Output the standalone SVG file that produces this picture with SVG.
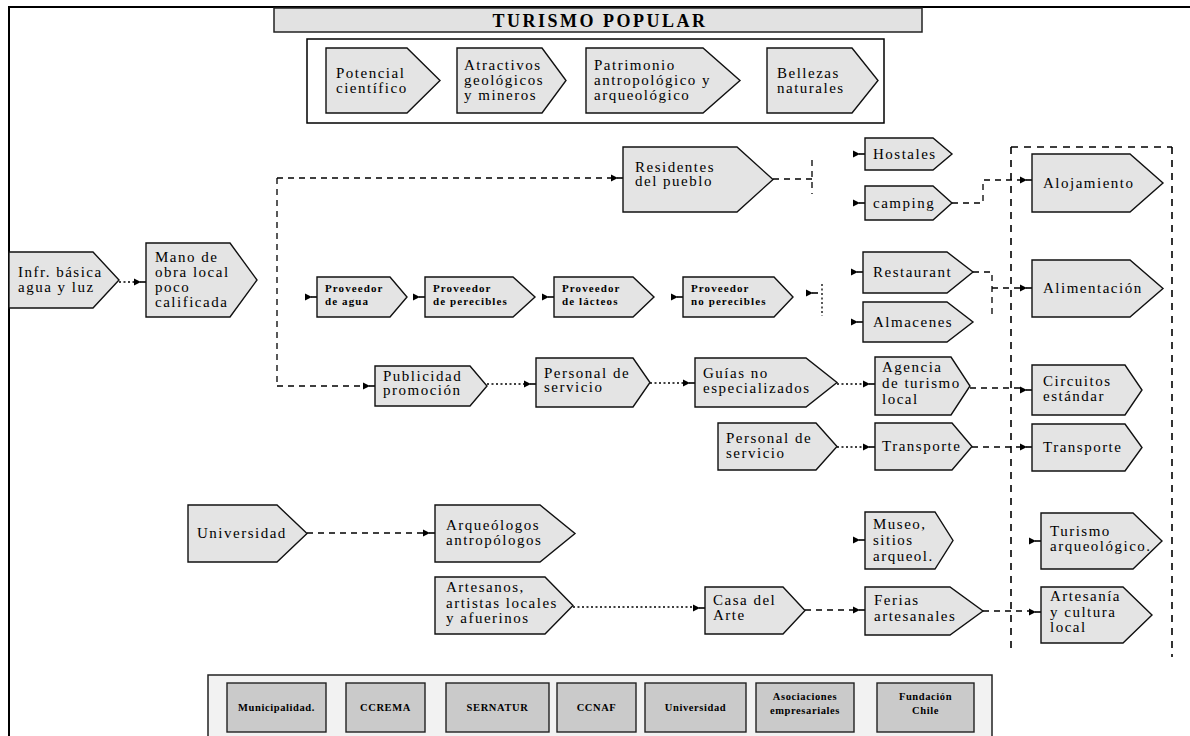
<svg xmlns="http://www.w3.org/2000/svg" xmlns:xlink="http://www.w3.org/1999/xlink" width="1190" height="736" viewBox="0 0 1190 736">
<style>
.n{fill:#e4e4e4;stroke:#111;stroke-width:1.4}
.t{font-family:"Liberation Serif","Times New Roman",serif;font-size:15px;letter-spacing:1.5px;fill:#000}
.ts{font-family:"Liberation Serif","Times New Roman",serif;font-size:11px;font-weight:bold;letter-spacing:1.1px;fill:#000}
.tb{font-family:"Liberation Serif","Times New Roman",serif;font-size:10.5px;font-weight:bold;letter-spacing:0.6px;fill:#000;text-anchor:middle}
.dash{fill:none;stroke:#000;stroke-width:1.3;stroke-dasharray:6 5}
.col{fill:none;stroke:#000;stroke-width:1.6;stroke-dasharray:7 6}
.dot{fill:none;stroke:#000;stroke-width:1.3;stroke-dasharray:2 2.5}
.bx{fill:#cacaca;stroke:#222;stroke-width:1.4}
</style>
<defs>
<g id="ah"><path d="M-12,-3.5 L-5,0 L-12,3.5 Z" fill="#000"/><path d="M-6,0 H0" stroke="#000" stroke-width="1.6"/></g>
</defs>

<g id="frame">
<path d="M9,736 V7 H1190" fill="none" stroke="#000" stroke-width="2"/>
</g>

<g id="title">
<rect x="274" y="8" width="648" height="24" fill="#e2e2e2" stroke="#222" stroke-width="1.5"/>
<text x="600" y="27" font-family="'Liberation Serif','Times New Roman',serif" font-size="18" font-weight="bold" letter-spacing="2.5" text-anchor="middle">TURISMO POPULAR</text>
</g>

<g id="topbox">
<rect x="307" y="39" width="577" height="84" fill="#fff" stroke="#000" stroke-width="1.5"/>
</g>
<g id="n-potencial"><polygon class="n" points="326,48 407,48 440,80.5 407,113 326,113"/><text class="t"><tspan x="336" y="78">Potencial</tspan><tspan x="336" y="93">científico</tspan></text></g>
<g id="n-atractivos"><polygon class="n" points="457,48 542,48 566,80.5 542,113 457,113"/><text class="t"><tspan x="464" y="70">Atractivos</tspan><tspan x="464" y="85">geológicos</tspan><tspan x="464" y="100">y mineros</tspan></text></g>
<g id="n-patrimonio"><polygon class="n" points="586,48 703,48 740,80.5 703,113 586,113"/><text class="t"><tspan x="594" y="70">Patrimonio</tspan><tspan x="594" y="85">antropológico y</tspan><tspan x="594" y="100">arqueológico</tspan></text></g>
<g id="n-bellezas"><polygon class="n" points="767,48 852,48 878,80.5 852,113 767,113"/><text class="t"><tspan x="777" y="78">Bellezas</tspan><tspan x="777" y="93">naturales</tspan></text></g>

<g id="connectors">
<path class="dot" d="M119,282 H137"/>
<use xlink:href="#ah" x="146" y="282"/>
<path class="dash" d="M277,178 V386 M277,178 H614 M277,386 H366"/>
<use xlink:href="#ah" x="623" y="178"/>
<use xlink:href="#ah" x="375" y="386"/>
<use xlink:href="#ah" x="317" y="297"/>
<use xlink:href="#ah" x="425" y="297"/>
<use xlink:href="#ah" x="554" y="297"/>
<use xlink:href="#ah" x="683" y="297"/>
<use xlink:href="#ah" x="818" y="293"/>
<path class="dot" d="M822,284 V316"/>
<path class="dash" d="M773,179 H812 M812,160 V194"/>
<use xlink:href="#ah" x="865" y="154"/>
<use xlink:href="#ah" x="865" y="203"/>
<path class="dash" d="M952,203 H983 V180 H1023"/>
<use xlink:href="#ah" x="1032" y="180"/>
<path class="dash" d="M973,272 H992 V318 M992,288 H1023"/>
<use xlink:href="#ah" x="863" y="272"/>
<use xlink:href="#ah" x="863" y="322"/>
<use xlink:href="#ah" x="1032" y="288"/>
<path class="dot" d="M487,384 H527"/>
<use xlink:href="#ah" x="536" y="384"/>
<path class="dot" d="M650,383 H686"/>
<use xlink:href="#ah" x="695" y="383"/>
<path class="dot" d="M837,384 H866"/>
<use xlink:href="#ah" x="875" y="384"/>
<path class="dash" d="M970,388 H1023"/>
<use xlink:href="#ah" x="1032" y="390"/>
<path class="dot" d="M837,447 H866"/>
<use xlink:href="#ah" x="875" y="447"/>
<path class="dash" d="M972,447 H1023"/>
<use xlink:href="#ah" x="1032" y="447"/>
<path class="dash" d="M307,533 H426"/>
<use xlink:href="#ah" x="435" y="533"/>
<path class="dot" d="M573,607 H696"/>
<use xlink:href="#ah" x="705" y="608"/>
<path class="dash" d="M805,610 H856"/>
<use xlink:href="#ah" x="865" y="610"/>
<path class="dash" d="M983,611 H1032"/>
<use xlink:href="#ah" x="1041" y="612"/>
<use xlink:href="#ah" x="865" y="540"/>
<use xlink:href="#ah" x="1041" y="541"/>
<path class="col" d="M1011,147 H1172 M1011,147 V652 M1172,147 V657"/>
</g>

<g id="n-infr"><polygon class="n" points="9,252 93,252 119,280 93,308 9,308"/><text class="t"><tspan x="18" y="277">Infr. básica</tspan><tspan x="18" y="292">agua y luz</tspan></text></g>
<g id="n-mano"><polygon class="n" points="146,243 230,243 257,280 230,317 146,317"/><text class="t"><tspan x="155" y="262">Mano de</tspan><tspan x="155" y="277">obra local</tspan><tspan x="155" y="292">poco</tspan><tspan x="155" y="307">calificada</tspan></text></g>

<g id="n-residentes"><polygon class="n" points="623,147 737,147 773,179.5 737,212 623,212"/><text class="t"><tspan x="635" y="172">Residentes</tspan><tspan x="635" y="186">del pueblo</tspan></text></g>
<g id="n-hostales"><polygon class="n" points="865,138 933,138 952,154 933,170 865,170"/><text class="t"><tspan x="873" y="159">Hostales</tspan></text></g>
<g id="n-camping"><polygon class="n" points="865,186 933,186 952,203 933,220 865,220"/><text class="t"><tspan x="873" y="208">camping</tspan></text></g>

<g id="n-prov-agua"><polygon class="n" points="317,277 390,277 407,297 390,317 317,317"/><text class="ts"><tspan x="325" y="292">Proveedor</tspan><tspan x="325" y="305">de agua</tspan></text></g>
<g id="n-prov-perecibles"><polygon class="n" points="425,277 513,277 535,297 513,317 425,317"/><text class="ts"><tspan x="433" y="292">Proveedor</tspan><tspan x="433" y="305">de perecibles</tspan></text></g>
<g id="n-prov-lacteos"><polygon class="n" points="554,277 633,277 654,297 633,317 554,317"/><text class="ts"><tspan x="562" y="292">Proveedor</tspan><tspan x="562" y="305">de lácteos</tspan></text></g>
<g id="n-prov-noperecibles"><polygon class="n" points="683,277 774,277 793,297 774,317 683,317"/><text class="ts"><tspan x="691" y="292">Proveedor</tspan><tspan x="691" y="305">no perecibles</tspan></text></g>

<g id="n-restaurant"><polygon class="n" points="863,252 947,252 973,272 947,293 863,293"/><text class="t"><tspan x="873" y="277">Restaurant</tspan></text></g>
<g id="n-almacenes"><polygon class="n" points="863,302 947,302 973,322 947,342 863,342"/><text class="t"><tspan x="873" y="327">Almacenes</tspan></text></g>

<g id="n-alojamiento"><polygon class="n" points="1032,154 1130,154 1163,183 1130,212 1032,212"/><text class="t"><tspan x="1043" y="188">Alojamiento</tspan></text></g>
<g id="n-alimentacion"><polygon class="n" points="1032,260 1130,260 1163,288.5 1130,317 1032,317"/><text class="t"><tspan x="1043" y="293">Alimentación</tspan></text></g>
<g id="n-circuitos"><polygon class="n" points="1032,365 1125,365 1142,390 1125,415 1032,415"/><text class="t"><tspan x="1043" y="386">Circuitos</tspan><tspan x="1043" y="401">estándar</tspan></text></g>
<g id="n-transporte-r"><polygon class="n" points="1032,424 1125,424 1142,447.5 1125,471 1032,471"/><text class="t"><tspan x="1043" y="452">Transporte</tspan></text></g>
<g id="n-turismo-arq"><polygon class="n" points="1041,513 1133,513 1162,541 1133,569 1041,569"/><text class="t"><tspan x="1050" y="536">Turismo</tspan><tspan x="1050" y="551">arqueológico.</tspan></text></g>
<g id="n-artesania"><polygon class="n" points="1041,587 1123,587 1152,615 1123,643 1041,643"/><text class="t"><tspan x="1050" y="601">Artesanía</tspan><tspan x="1050" y="617">y cultura</tspan><tspan x="1050" y="632">local</tspan></text></g>

<g id="n-publicidad"><polygon class="n" points="375,366 470,366 487,386 470,406 375,406"/><text class="t"><tspan x="383" y="381">Publicidad</tspan><tspan x="383" y="395">promoción</tspan></text></g>
<g id="n-personal1"><polygon class="n" points="536,358 633,358 650,382.5 633,407 536,407"/><text class="t"><tspan x="544" y="378">Personal de</tspan><tspan x="544" y="392">servicio</tspan></text></g>
<g id="n-guias"><polygon class="n" points="695,358 806,358 837,382.5 806,407 695,407"/><text class="t"><tspan x="703" y="378">Guías no</tspan><tspan x="703" y="393">especializados</tspan></text></g>
<g id="n-agencia"><polygon class="n" points="875,357 951,357 970,386 951,415 875,415"/><text class="t"><tspan x="882" y="372">Agencia</tspan><tspan x="882" y="388">de turismo</tspan><tspan x="882" y="404">local</tspan></text></g>
<g id="n-personal2"><polygon class="n" points="718,423 816,423 837,446.5 816,470 718,470"/><text class="t"><tspan x="726" y="443">Personal de</tspan><tspan x="726" y="458">servicio</tspan></text></g>
<g id="n-transporte-m"><polygon class="n" points="875,423 952,423 972,446.5 952,470 875,470"/><text class="t"><tspan x="882" y="451">Transporte</tspan></text></g>

<g id="n-universidad"><polygon class="n" points="188,505 277,505 307,533.5 277,562 188,562"/><text class="t"><tspan x="197" y="538">Universidad</tspan></text></g>
<g id="n-arqueologos"><polygon class="n" points="435,505 540,505 575,533.5 540,562 435,562"/><text class="t"><tspan x="446" y="530">Arqueólogos</tspan><tspan x="446" y="545">antropólogos</tspan></text></g>
<g id="n-artesanos"><polygon class="n" points="435,577 545,577 573,605.5 545,634 435,634"/><text class="t"><tspan x="446" y="592">Artesanos,</tspan><tspan x="446" y="608">artistas locales</tspan><tspan x="446" y="623">y afuerinos</tspan></text></g>
<g id="n-museo"><polygon class="n" points="865,512 935,512 953,540.5 935,569 865,569"/><text class="t"><tspan x="873" y="529">Museo,</tspan><tspan x="873" y="545">sitios</tspan><tspan x="873" y="561">arqueol.</tspan></text></g>
<g id="n-casa"><polygon class="n" points="705,587 783,587 805,610.5 783,634 705,634"/><text class="t"><tspan x="713" y="605">Casa del</tspan><tspan x="713" y="620">Arte</tspan></text></g>
<g id="n-ferias"><polygon class="n" points="865,587 950,587 983,611 950,635 865,635"/><text class="t"><tspan x="874" y="605">Ferias</tspan><tspan x="874" y="621">artesanales</tspan></text></g>

<g id="bottombox">
<rect x="208" y="675" width="784" height="75" fill="#f2f2f2" stroke="#222" stroke-width="1.5"/>
</g>
<g id="b-municipalidad"><rect class="bx" x="227" y="683" width="99" height="49"/><text class="tb" x="276.5" y="711">Municipalidad.</text></g>
<g id="b-ccrema"><rect class="bx" x="346" y="683" width="79" height="49"/><text class="tb" x="385.5" y="711">CCREMA</text></g>
<g id="b-sernatur"><rect class="bx" x="446" y="683" width="103" height="49"/><text class="tb" x="497.5" y="711">SERNATUR</text></g>
<g id="b-ccnaf"><rect class="bx" x="557" y="683" width="79" height="49"/><text class="tb" x="596.5" y="711">CCNAF</text></g>
<g id="b-universidad"><rect class="bx" x="645" y="683" width="101" height="49"/><text class="tb" x="695.5" y="711">Universidad</text></g>
<g id="b-asociaciones"><rect class="bx" x="756" y="683" width="98" height="49"/><text class="tb" font-size="9.5"><tspan x="805" y="700">Asociaciones</tspan><tspan x="805" y="714">empresariales</tspan></text></g>
<g id="b-fundacion"><rect class="bx" x="877" y="683" width="97" height="49"/><text class="tb"><tspan x="925.5" y="700">Fundación</tspan><tspan x="925.5" y="714">Chile</tspan></text></g>
</svg>
